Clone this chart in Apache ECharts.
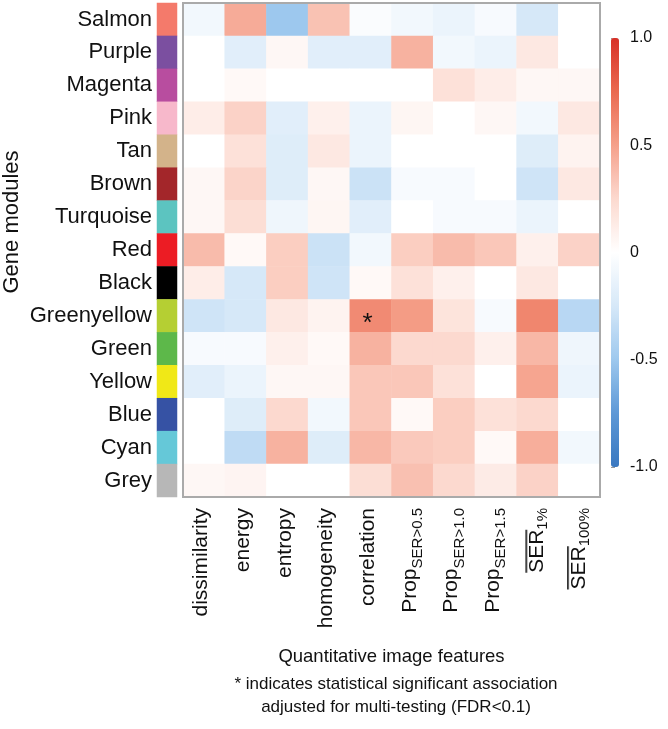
<!DOCTYPE html>
<html>
<head>
<meta charset="utf-8">
<script src="https://cdn.jsdelivr.net/npm/echarts@6/dist/echarts.min.js"></script>
<style>
  html, body { margin: 0; padding: 0; background: #fff; }
  #main { width: 668px; height: 729px; }
</style>
</head>
<body>
<div id="main"></div>
<script>
var modules = ['Salmon', 'Purple', 'Magenta', 'Pink', 'Tan', 'Brown', 'Turquoise', 'Red',
    'Black', 'Greenyellow', 'Green', 'Yellow', 'Blue', 'Cyan', 'Grey'];
var moduleColors = ['#f47a6b', '#7b4fa0', '#b84d9f', '#f7b8cb', '#d3b38a', '#a3262a', '#5cc4c0', '#ec1c24',
    '#000000', '#b5cf33', '#5db84a', '#f0e817', '#3652a4', '#65c8d8', '#b7b7b7'];
// "base_sub"; a leading "~" marks an overlined base
var features = ['dissimilarity', 'energy', 'entropy', 'homogeneity', 'correlation',
    'Prop_SER>0.5', 'Prop_SER>1.0', 'Prop_SER>1.5', '~SER_1%', '~SER_100%'];
// one row per module, one value per feature
var values = [
    [-0.08, 0.45, -0.50, 0.35, -0.03, -0.08, -0.12, -0.05, -0.25, 0.00],
    [0.00, -0.18, 0.05, -0.18, -0.18, 0.42, -0.08, -0.12, 0.15, 0.00],
    [0.00, 0.04, 0.00, 0.00, 0.00, 0.00, 0.20, 0.12, 0.05, 0.05],
    [0.12, 0.28, -0.18, 0.10, -0.12, 0.06, 0.00, 0.05, -0.08, 0.15],
    [0.00, 0.20, -0.20, 0.15, -0.12, 0.00, 0.00, 0.00, -0.20, 0.08],
    [0.05, 0.27, -0.20, 0.05, -0.30, -0.05, -0.05, 0.00, -0.28, 0.15],
    [0.05, 0.22, -0.10, 0.06, -0.18, 0.00, -0.05, -0.05, -0.12, 0.00],
    [0.38, 0.04, 0.30, -0.30, -0.08, 0.30, 0.38, 0.33, 0.10, 0.28],
    [0.12, -0.25, 0.30, -0.28, 0.04, 0.20, 0.10, 0.00, 0.15, 0.00],
    [-0.28, -0.25, 0.15, 0.08, 0.60, 0.52, 0.18, -0.05, 0.62, -0.38],
    [-0.05, -0.05, 0.10, 0.04, 0.42, 0.25, 0.25, 0.10, 0.40, -0.10],
    [-0.18, -0.12, 0.05, 0.05, 0.33, 0.33, 0.20, 0.00, 0.48, -0.12],
    [0.00, -0.20, 0.25, -0.08, 0.33, 0.04, 0.30, 0.20, 0.25, 0.00],
    [0.00, -0.35, 0.42, -0.20, 0.40, 0.32, 0.30, 0.04, 0.44, -0.08],
    [0.05, 0.07, 0.00, 0.00, 0.22, 0.36, 0.25, 0.13, 0.28, 0.00]
];
// [feature index, module index] of significant cells
var significant = [[4, 9]];
var scaleTicks = [-1, -0.5, 0, 0.5, 1];

var font = 'Liberation Sans, Arial, Helvetica, sans-serif';

var cells = [];
values.forEach(function (row, r) {
    row.forEach(function (v, c) {
        var item = { value: [c, r, v] };
        significant.forEach(function (s) {
            if (s[0] === c && s[1] === r) {
                item.label = { show: true, formatter: '*', fontSize: 26, color: '#111', offset: [-3, 8] };
            }
        });
        cells.push(item);
    });
});
var strip = modules.map(function (m, r) {
    return { value: [0, r, r], itemStyle: { color: moduleColors[r] } };
});

// little bar image used as the overline behind "SER"
var bar = document.createElement('canvas');
bar.width = 4; bar.height = 26;
var bctx = bar.getContext('2d');
bctx.fillStyle = '#111';
bctx.fillRect(0, 1, 4, 1.6);

function featureLabel(name) {
    var p = name.split('_');
    if (p.length === 1) return '{m|' + name + '}';
    if (p[0].charAt(0) === '~') return '{o|' + p[0].slice(1) + '}{s|' + p[1] + '}';
    return '{m|' + p[0] + '}{s|' + p[1] + '}';
}

var chart = echarts.init(document.getElementById('main'));
chart.setOption({
    animation: false,
    textStyle: { fontFamily: font },
    title: {
        text: '* indicates statistical significant association\nadjusted for multi-testing (FDR<0.1)',
        left: 391, top: 668, textAlign: 'center',
        textStyle: { fontSize: 17, fontWeight: 'normal', color: '#111', lineHeight: 23, fontFamily: font }
    },
    grid: [
        { left: 183, top: 3, width: 417, height: 494, z: 10, show: true, borderColor: '#aaa', borderWidth: 2, backgroundColor: 'transparent' },
        { left: 155, top: 3, width: 22, height: 494 },
        { left: 611, top: 38, width: 8, height: 429 }
    ],
    xAxis: [
        {
            type: 'category', gridIndex: 0, data: features,
            axisLine: { show: false }, axisTick: { show: false }, splitLine: { show: false },
            axisLabel: {
                rotate: 90, margin: 11, color: '#111', formatter: featureLabel,
                rich: {
                    m: { fontSize: 21, lineHeight: 26, verticalAlign: 'top', color: '#111' },
                    o: { fontSize: 21, lineHeight: 26, height: 26, verticalAlign: 'top', color: '#111',
                         backgroundColor: { image: bar } },
                    s: { fontSize: 15, lineHeight: 14, verticalAlign: 'bottom', color: '#111' }
                }
            },
            name: 'Quantitative image features', nameLocation: 'middle', nameGap: 150,
            nameTextStyle: { fontSize: 18.5, color: '#111' }
        },
        { type: 'category', gridIndex: 1, data: [''], show: false },
        { type: 'value', gridIndex: 2, show: false }
    ],
    yAxis: [
        { type: 'category', gridIndex: 0, data: modules, inverse: true, show: false },
        {
            type: 'category', gridIndex: 1, data: modules, inverse: true,
            axisLine: { show: false }, axisTick: { show: false },
            axisLabel: { fontSize: 22, color: '#111', margin: 5 },
            name: 'Gene modules', nameLocation: 'middle', nameGap: 134,
            nameTextStyle: { fontSize: 22, color: '#111', padding: [0, 0, 0, 56] }
        },
        {
            type: 'value', gridIndex: 2, position: 'right', min: -1, max: 1, interval: 0.5,
            axisLine: { show: false }, splitLine: { show: false },
            axisTick: { show: true, length: 4, lineStyle: { color: '#999' } },
            axisLabel: {
                fontSize: 16, color: '#111', margin: 11,
                formatter: function (v) { return scaleTicks.indexOf(v) < 0 ? '' : (v === 0 ? '0' : v.toFixed(1)); }
            }
        }
    ],
    visualMap: {
        type: 'continuous', seriesIndex: 0, min: -1, max: 1, calculable: false,
        orient: 'vertical', left: 611, top: 38, itemWidth: 8, itemHeight: 429, padding: 0,
        text: null, showLabel: false,
        inRange: {
            color: ['#3a78c0', '#5d98d6', '#9dc8ee', '#d6e8f8', '#ffffff', '#fcd9cf', '#f5a08a', '#ea6a50', '#d73027']
        }
    },
    series: [
        {
            type: 'heatmap', xAxisIndex: 0, yAxisIndex: 0, data: cells,
            itemStyle: { borderWidth: 0 }, emphasis: { disabled: true }
        },
        {
            type: 'heatmap', xAxisIndex: 1, yAxisIndex: 1, data: strip,
            itemStyle: { borderWidth: 0 }, emphasis: { disabled: true }
        }
    ]
});
</script>
</body>
</html>
